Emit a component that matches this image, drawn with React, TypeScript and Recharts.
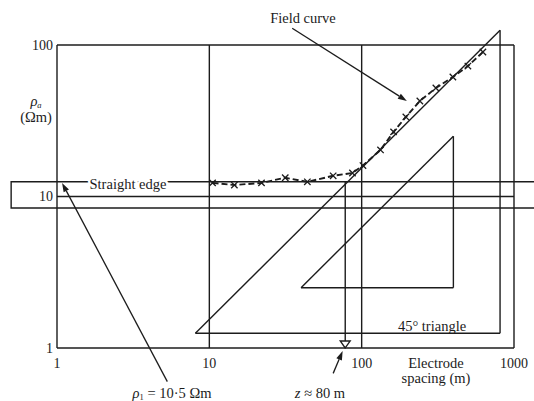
import React from 'react'
import {
  ComposedChart, Line, XAxis, YAxis, CartesianGrid,
  ReferenceLine, ReferenceArea, ReferenceDot,
} from 'recharts'

// field sounding: electrode spacing (m) vs apparent resistivity (ohm m)
const spacing = [10.5, 14.6, 22, 31.5, 44, 65, 87, 102, 133, 162, 195, 241, 307, 397, 498, 625]
const rhoA    = [12.3, 11.9, 12.3, 13.3, 12.5, 13.7, 14.3, 16, 20.3, 26.7, 33.5, 42.7, 52, 61.5, 72.6, 89.9]

const xTicks = [1, 10, 100, 1000]
const yTicks = [1, 10, 100]

// straight edge laid along rho1
const edgeX = [0.5, 2000]
const edgeY = [8.4, 12.5]

// 45 degree set square, outer and inner corners
const triOuter = [[8.1, 1.25], [810, 1.25], [810, 125]]
const triInner = [[40, 2.5], [400, 2.5], [400, 25]]

const zDepth = 78
const zTop   = 12.5

// annotation arrows, [tail, head]
const arrowField = [[35, 129], [198, 42.7]]
const arrowRho   = [[5.3, 0.6], [1.08, 12.3]]
const arrowZ     = [[65, 0.68], [75, 0.955]]

const INK  = '#1c1c1c'
const FONT = '"Liberation Serif", "DejaVu Serif", serif'

const fieldData = spacing.map((x, i) => ({ x, rho: rhoA[i] }))

const edges = (pts: number[][]) => pts.map((p, i) => [p, pts[(i + 1) % pts.length]])

function Arrow(props: any) {
  const { x1, y1, x2, y2 } = props
  const a  = Math.atan2(y2 - y1, x2 - x1)
  const L  = 9, W = 3
  const bx = x2 - L * Math.cos(a), by = y2 - L * Math.sin(a)
  const px = -Math.sin(a) * W, py = Math.cos(a) * W
  return (
    <g>
      <line x1={x1} y1={y1} x2={bx} y2={by} stroke={INK} strokeWidth={1.3} />
      <polygon points={`${x2},${y2} ${bx + px},${by + py} ${bx - px},${by - py}`} fill={INK} />
    </g>
  )
}

function DownTri(props: any) {
  const { cx, cy } = props
  return (
    <polygon
      points={`${cx},${cy} ${cx - 5},${cy - 7} ${cx + 5},${cy - 7}`}
      fill="#fff" stroke={INK} strokeWidth={1.3}
    />
  )
}

function renderCross(p: any) {
  const { cx, cy, index } = p
  const s = 3.2
  return (
    <path
      key={'c' + index}
      d={`M${cx - s},${cy - s}L${cx + s},${cy + s}M${cx - s},${cy + s}L${cx + s},${cy - s}`}
      stroke={INK} strokeWidth={1.3} fill="none"
    />
  )
}

const seg = (a: number[], b: number[]) => [{ x: a[0], y: a[1] }, { x: b[0], y: b[1] }]

export default function App() {
  const tick = { fill: INK, fontSize: 14, fontFamily: FONT }
  const txt  = { fill: INK, fontSize: 14.5, fontFamily: FONT }

  return (
    <div style={{ position: 'relative', width: 534, height: 401, background: '#fff' }}>
      <style>{'body{margin:0;background:#fff}'}</style>
      <ComposedChart width={534} height={401} margin={{ top: 45, right: 20, bottom: 23, left: 0 }}>
        <CartesianGrid stroke={INK} strokeWidth={1.4} />
        <XAxis
          type="number" dataKey="x" scale="log" domain={[1, 1000]} ticks={xTicks}
          allowDataOverflow axisLine={false} tickLine={false} tick={tick}
          height={30} tickMargin={4}
        />
        <YAxis
          type="number" scale="log" domain={[1, 100]} ticks={yTicks}
          allowDataOverflow axisLine={false} tickLine={false} tick={tick}
          width={57} tickSize={2} tickMargin={2}
        />
        <ReferenceArea
          x1={edgeX[0]} x2={edgeX[1]} y1={edgeY[0]} y2={edgeY[1]}
          fill="none" stroke={INK} strokeWidth={1.4} ifOverflow="visible"
        />
        {[...edges(triOuter), ...edges(triInner)].map(([a, b], i) => (
          <ReferenceLine key={'t' + i} segment={seg(a, b)} stroke={INK} strokeWidth={1.4} ifOverflow="visible" />
        ))}
        <ReferenceLine segment={seg([zDepth, zTop], [zDepth, 1])} stroke={INK} strokeWidth={1.4} ifOverflow="visible" />
        <ReferenceDot x={zDepth} y={1} shape={DownTri} ifOverflow="visible" />
        <ReferenceLine segment={seg(arrowField[0], arrowField[1])} shape={Arrow} ifOverflow="visible" />
        <ReferenceLine segment={seg(arrowRho[0], arrowRho[1])} shape={Arrow} ifOverflow="visible" />
        <ReferenceLine segment={seg(arrowZ[0], arrowZ[1])} shape={Arrow} ifOverflow="visible" />
        <Line
          data={fieldData} dataKey="rho" type="linear" stroke={INK} strokeWidth={1.9}
          strokeDasharray="6 3" dot={renderCross} activeDot={false} isAnimationActive={false}
        />
      </ComposedChart>
      <svg width={534} height={401} style={{ position: 'absolute', left: 0, top: 0, pointerEvents: 'none' }}>
        <text x={303} y={23} textAnchor="middle" {...txt}>Field curve</text>
        <text x={36} y={106} textAnchor="middle" {...txt} fontStyle="italic">ρ<tspan fontSize={8.5} dy={2}>a</tspan></text>
        <text x={36} y={122} textAnchor="middle" {...txt}>(Ωm)</text>
        <text x={128} y={189} textAnchor="middle" {...txt} stroke="#fff" strokeWidth={5} paintOrder="stroke">Straight edge</text>
        <text x={432} y={331} textAnchor="middle" {...txt}>45° triangle</text>
        <text x={436} y={368} textAnchor="middle" {...txt}>Electrode</text>
        <text x={436} y={383} textAnchor="middle" {...txt}>spacing (m)</text>
        <text x={172} y={398} textAnchor="middle" {...txt}>
          <tspan fontStyle="italic">ρ</tspan><tspan fontSize={8.5} dy={2}>1</tspan><tspan dy={-2}> = 10·5 Ωm</tspan>
        </text>
        <text x={320} y={398} textAnchor="middle" {...txt}>
          <tspan fontStyle="italic">z</tspan> ≈ 80 m
        </text>
      </svg>
    </div>
  )
}
